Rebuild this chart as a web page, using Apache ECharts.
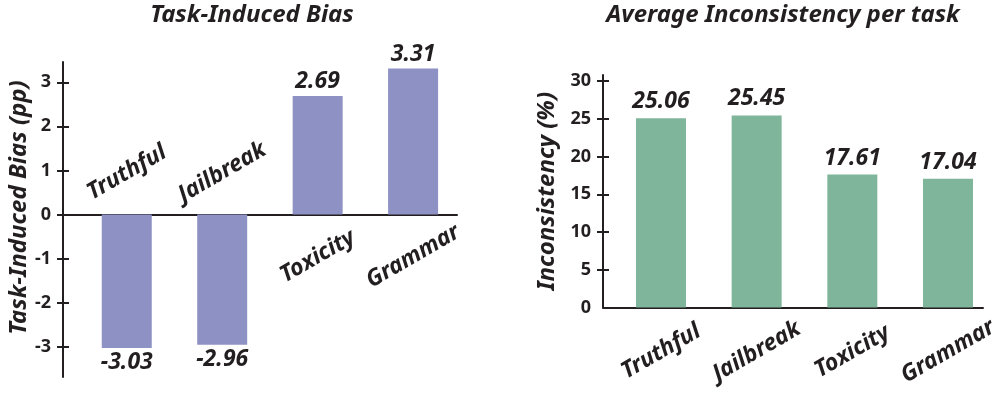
<!DOCTYPE html>
<html>
<head>
<meta charset="utf-8">
<script src="https://cdn.jsdelivr.net/npm/echarts@6/dist/echarts.min.js"></script>
<style>
  html, body { margin: 0; padding: 0; background: #fff; }
  #chart { width: 997px; height: 398px; }
</style>
</head>
<body>
<div id="chart"></div>
<script>
const tasks = ['Truthful', 'Jailbreak', 'Toxicity', 'Grammar'];
const biasValues = [-3.03, -2.96, 2.69, 3.31];
const inconsistencyValues = [25.06, 25.45, 17.61, 17.04];
const biasTicks = [-3, -2, -1, 0, 1, 2, 3];
const inconsistencyTicks = [0, 5, 10, 15, 20, 25, 30];

const ink = '#231f20';
const font = '"Noto Sans", sans-serif';

const chart = echarts.init(document.getElementById('chart'));

// bar items with label side depending on sign
const biasBars = biasValues.map((v, i) => ({
  value: [i, v],
  label: { position: v >= 0 ? 'top' : 'bottom' }
}));
// transparent copy carrying the task names on the other side of zero
const biasNames = biasValues.map((v, i) => ({
  value: [i, v],
  label: { position: v >= 0 ? 'bottom' : 'top' }
}));
const inconsistencyBars = inconsistencyValues.map((v, i) => [i, v]);

const yAxisBase = (grid, min, max, ticks, name, nameGap, namePad) => ([
  {
    type: 'value', gridIndex: grid, position: 'left', min: min, max: max,
    name: name, nameLocation: 'middle', nameGap: nameGap,
    nameTextStyle: { color: ink, fontFamily: font, fontSize: 24, fontWeight: 'bold', fontStyle: 'italic', padding: [0, 0, 0, namePad] },
    axisLine: { show: true, onZero: false, lineStyle: { color: ink, width: 2 } },
    axisTick: { show: true, length: 6, lineStyle: { color: ink, width: 2 }, customValues: ticks.filter(t => grid === 0 || t !== 0) },
    axisLabel: { color: ink, fontFamily: font, fontSize: 18, fontWeight: 'bold', margin: 12, customValues: ticks },
    splitLine: { show: false }
  },
  {
    type: 'value', gridIndex: grid, position: 'left', min: min, max: max,
    axisLine: { show: false, onZero: false },
    axisTick: { show: true, inside: true, length: 6, lineStyle: { color: ink, width: 2 }, customValues: ticks.filter(t => grid === 0 || t !== 0) },
    axisLabel: { show: false },
    splitLine: { show: false }
  }
]);

const valueLabel = {
  show: true, color: ink, fontFamily: font, fontSize: 23,
  fontWeight: 'bold', fontStyle: 'italic',
  formatter: p => p.value[1].toFixed(2)
};

const option = {
  backgroundColor: '#fff',
  animation: false,
  graphic: [
    { type: 'text', x: 252, y: 3, style: { text: 'Task-Induced Bias', fill: ink, align: 'center', verticalAlign: 'top', font: 'italic bold 24px "Noto Sans"' } },
    { type: 'text', x: 783, y: 3, style: { text: 'Average Inconsistency per task', fill: ink, align: 'center', verticalAlign: 'top', font: 'italic bold 24px "Noto Sans"' } }
  ],
  grid: [
    { left: 63, right: 997 - 457, top: 62, bottom: 398 - 377, outerBoundsMode: 'none' },
    { left: 603, right: 997 - 983, top: 75, bottom: 398 - 307.5, outerBoundsMode: 'none' }
  ],
  xAxis: [
    {
      type: 'value', gridIndex: 0, min: -0.668, max: 3.46,
      axisLine: { show: true, onZero: true, lineStyle: { color: ink, width: 2 } },
      axisTick: { show: false }, axisLabel: { show: false }, splitLine: { show: false }
    },
    {
      type: 'value', gridIndex: 1, min: -0.606, max: 3.366,
      axisLine: { show: true, onZero: false, lineStyle: { color: ink, width: 2 } },
      axisTick: { show: false }, splitLine: { show: false },
      axisLabel: {
        color: ink, fontFamily: font, fontSize: 23, fontWeight: 'bold', fontStyle: 'italic',
        customValues: tasks.map((t, i) => i),
        formatter: v => tasks[v],
        rotate: 30, align: 'center', verticalAlign: 'middle', margin: 44
      }
    }
  ],
  yAxis: [
    ...yAxisBase(0, -3.69, 3.46, biasTicks, 'Task-Induced Bias (pp)', 32, 24),
    ...yAxisBase(1, 0, 30.8, inconsistencyTicks, 'Inconsistency (%)', 44, 0)
  ],
  series: [
    {
      type: 'bar', xAxisIndex: 0, yAxisIndex: 0, barWidth: 50, barGap: '-100%',
      itemStyle: { color: '#8e91c3' },
      label: Object.assign({ distance: 3 }, valueLabel),
      data: biasBars
    },
    {
      type: 'bar', xAxisIndex: 0, yAxisIndex: 0, barWidth: 50, barGap: '-100%',
      itemStyle: { color: 'rgba(0,0,0,0)' },
      label: {
        show: true, color: ink, fontFamily: font, fontSize: 23,
        fontWeight: 'bold', fontStyle: 'italic', distance: 42,
        rotate: 30, align: 'center', verticalAlign: 'middle',
        formatter: p => tasks[p.dataIndex]
      },
      data: biasNames
    },
    {
      type: 'bar', xAxisIndex: 1, yAxisIndex: 2, barWidth: 50,
      itemStyle: { color: '#7fb59a' },
      label: Object.assign({ position: 'top', distance: 5 }, valueLabel),
      data: inconsistencyBars
    }
  ]
};

chart.setOption(option);
</script>
</body>
</html>
